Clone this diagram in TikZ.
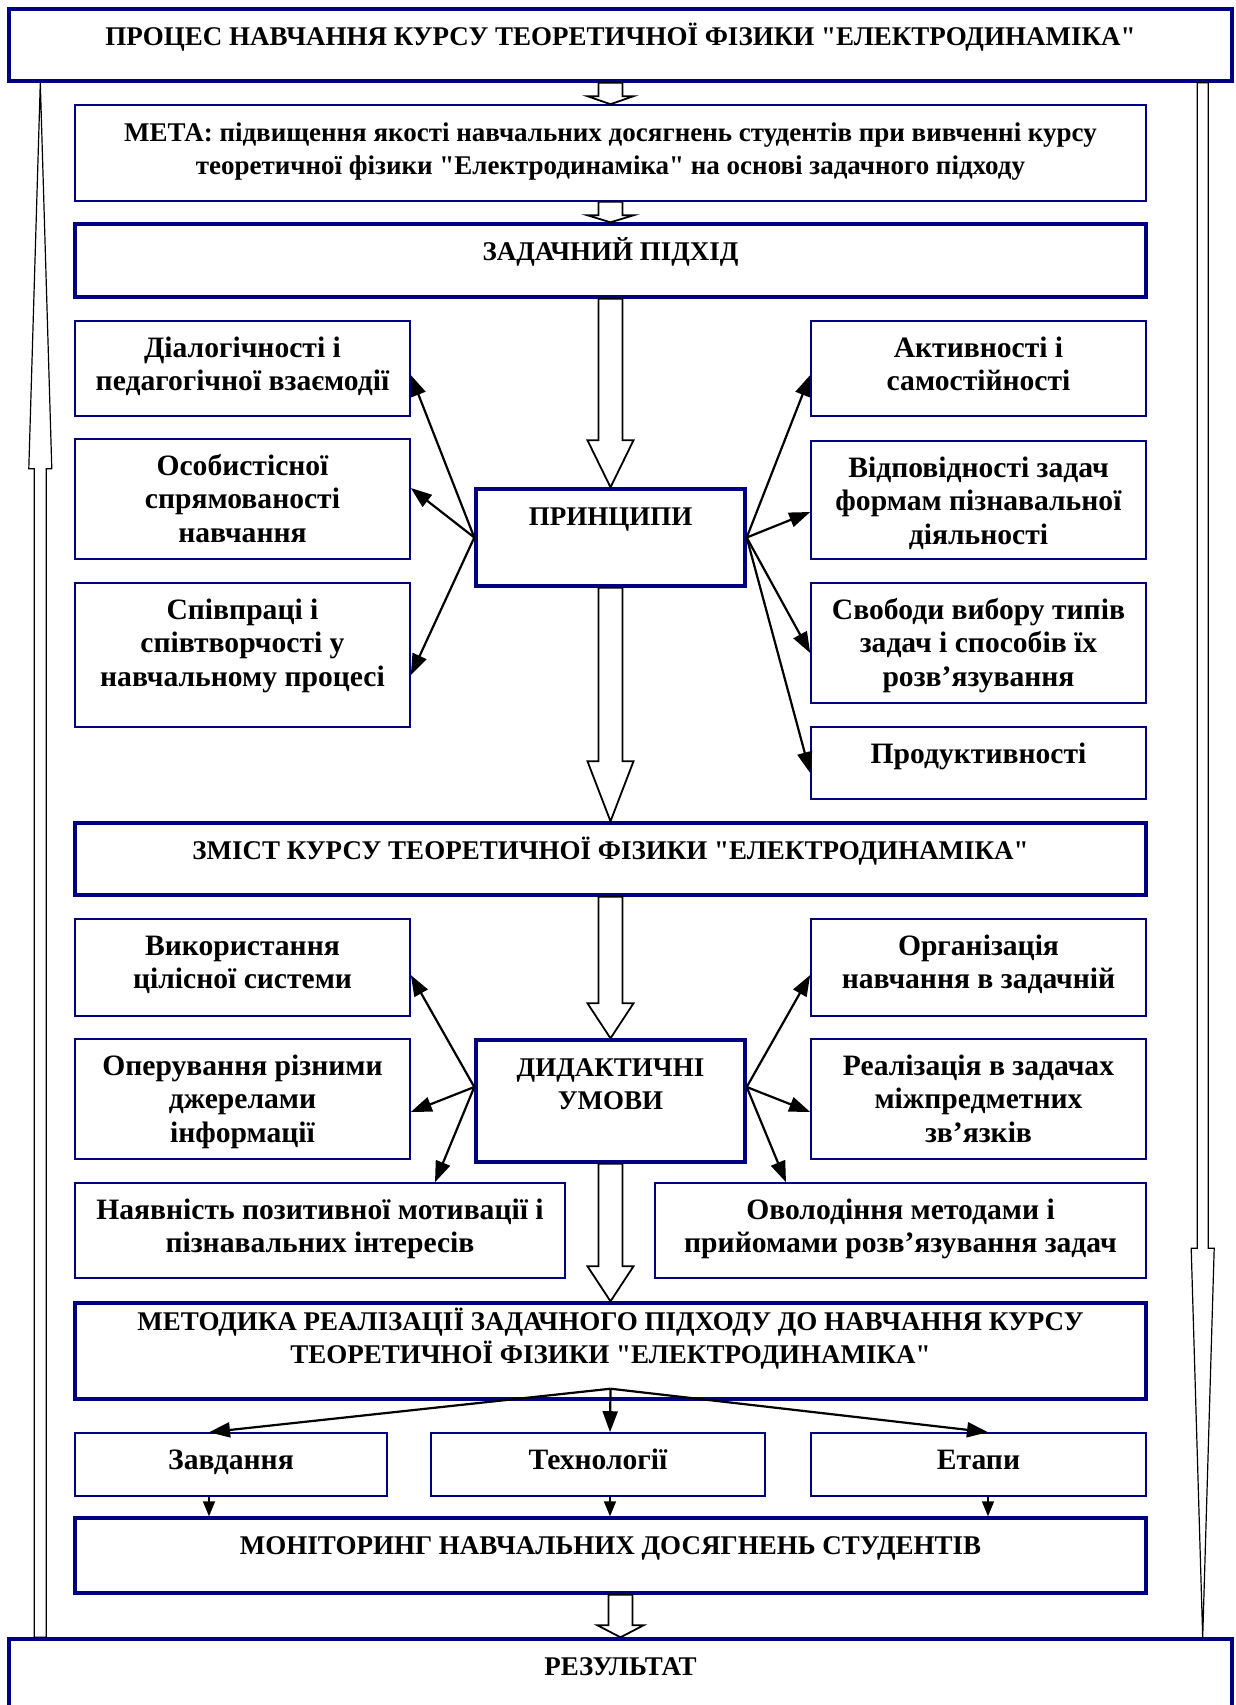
\documentclass[tikz,border=0pt]{standalone}
\usepackage{fontspec}
\setmainfont{Liberation Serif}[Ligatures=TeXOff]
\usepackage{tikz}
\usetikzlibrary{arrows.meta, calc}

\definecolor{ramka}{RGB}{0,0,128}

\newdimen\pxu \pxu=0.5pt
% текст блоку: [відступ 1-го рядка]{ширина}{висота}{текст}, розміри в px
\newcommand{\tb}[4][18pt]{\parbox[c][#3\pxu][t]{#2\pxu}{\centering\rule{0pt}{#1}#4}}
% широка стрілка між блоками: {звідки}{куди}{довжина вістря}
\newcommand{\bigarr}[3]{%
  \draw[blockarr] ($(#2.north |- #1.south)+(-12,0)$) -- ($(#2.north)+(-12,-#3)$)
    -- ($(#2.north)+(-23,-#3)$) -- (#2.north) -- ($(#2.north)+(23,-#3)$)
    -- ($(#2.north)+(12,-#3)$) -- ($(#2.north |- #1.south)+(12,0)$) -- cycle;}

\begin{document}
\begin{tikzpicture}[x=0.5pt, y=-0.5pt,
  font=\fontsize{13.5}{16.8}\selectfont\bfseries,
  bx/.style={draw=ramka, line width=0.8pt, inner sep=0pt, fill=white},
  bxs/.style={bx, font=\fontsize{14.8}{16.8}\selectfont\bfseries},
  bxb/.style={bx, line width=1.7pt},
  blockarr/.style={draw=black, fill=white, line width=0.9pt},
  longarr/.style={draw=black, fill=white, line width=0.6pt},
  arr/.style={-{Triangle[length=10.5pt,width=7.5pt]}, line width=1.1pt},
  sarr/.style={-{Triangle[length=7.5pt,width=6pt]}, line width=0.8pt}]

  \useasboundingbox (0,0) rectangle (1236,1705);
  \clip (0,0) rectangle (1236,1705);

  % === Процес, мета, підхід ===
  \node[bxb] (proc) at (620.5,45) {\tb{1223}{72}{ПРОЦЕС НАВЧАННЯ КУРСУ ТЕОРЕТИЧНОЇ ФІЗИКИ "ЕЛЕКТРОДИНАМІКА"}};
  \node[bx] (meta) at (610.5,153) {\tb{1071}{96}{МЕТА: підвищення якості навчальних досягнень студентів при вивченні курсу\\
    теоретичної фізики "Електродинаміка" на основі задачного підходу}};
  \node[bxb] (zad) at (610.5,260.5) {\tb{1071}{73}{ЗАДАЧНИЙ ПІДХІД}};

  % === Принципи ===
  \node[bxb] (prin) at (610.5,537.5) {\tb{269}{97}{ПРИНЦИПИ}};
  \node[bxs] (pl1) at (242.5,368.5) {\tb{335}{95}{Діалогічності і\\педагогічної взаємодії}};
  \node[bxs] (pl2) at (242.5,499) {\tb{335}{120}{Особистісної\\спрямованості\\навчання}};
  \node[bxs] (pl3) at (242.5,655) {\tb{335}{144}{Співпраці і\\співтворчості у\\навчальному процесі}};
  \node[bxs] (pr1) at (978.5,368.5) {\tb{335}{95}{Активності і\\самостійності}};
  \node[bxs] (pr2) at (978.5,500) {\tb{335}{118}{Відповідності задач\\формам пізнавальної\\діяльності}};
  \node[bxs] (pr3) at (978.5,643) {\tb{335}{120}{Свободи вибору типів\\задач і способів їх\\розв’язування}};
  \node[bxs] (pr4) at (978.5,763) {\tb{335}{72}{Продуктивності}};

  % === Зміст і дидактичні умови ===
  \node[bxb] (zmist) at (610.5,859) {\tb{1071}{72}{ЗМІСТ КУРСУ ТЕОРЕТИЧНОЇ ФІЗИКИ "ЕЛЕКТРОДИНАМІКА"}};
  \node[bxb] (umov) at (610.5,1101) {\tb{269}{122}{ДИДАКТИЧНІ\\УМОВИ}};
  \node[bxs] (ul1) at (242.5,967.5) {\tb{335}{97}{Використання\\цілісної системи}};
  \node[bxs] (ul2) at (242.5,1099) {\tb{335}{120}{Оперування різними\\джерелами\\інформації}};
  \node[bxs] (ul3) at (320,1230.5) {\tb{490}{95}{Наявність позитивної мотивації і\\пізнавальних інтересів}};
  \node[bxs] (ur1) at (978.5,967.5) {\tb{335}{97}{Організація\\навчання в задачній}};
  \node[bxs] (ur2) at (978.5,1099) {\tb{335}{120}{Реалізація в задачах\\міжпредметних\\зв’язків}};
  \node[bxs] (ur3) at (900.5,1230.5) {\tb{491}{95}{Оволодіння методами і\\прийомами розв’язування задач}};

  % === Методика, моніторинг, результат ===
  \node[bxb] (metod) at (610.5,1351) {\tb[13.5pt]{1071}{96}{МЕТОДИКА РЕАЛІЗАЦІЇ ЗАДАЧНОГО ПІДХОДУ ДО НАВЧАННЯ КУРСУ\\
    ТЕОРЕТИЧНОЇ ФІЗИКИ "ЕЛЕКТРОДИНАМІКА"}};
  \node[bxs] (zavd) at (231,1464.5) {\tb{312}{63}{Завдання}};
  \node[bxs] (tech) at (598,1464.5) {\tb{334}{63}{Технології}};
  \node[bxs] (etap) at (978.5,1464.5) {\tb{335}{63}{Етапи}};
  \node[bxb] (monit) at (610.5,1555.5) {\tb{1071}{75}{МОНІТОРИНГ НАВЧАЛЬНИХ ДОСЯГНЕНЬ СТУДЕНТІВ}};
  \node[bxb] (res) at (620.5,1689.5) {\tb{1223}{101}{РЕЗУЛЬТАТ}};

  % широкі стрілки по центру
  \bigarr{proc}{meta}{8}
  \bigarr{meta}{zad}{7}
  \bigarr{zad}{prin}{47}
  \bigarr{prin}{zmist}{60}
  \bigarr{zmist}{umov}{35}
  \bigarr{umov}{metod}{35}
  \bigarr{monit}{res}{12}

  % довгі стрілки по краях
  \coordinate (lt) at ($(proc.south west)+(33,0)$);
  \coordinate (lb) at ($(res.north west)+(33,0)$);
  \draw[longarr] ($(lb)+(-6,0)$) -- ($(lt)+(-6,386)$) -- ($(lt)+(-11.5,386)$) -- (lt)
    -- ($(lt)+(11.5,386)$) -- ($(lt)+(6,386)$) -- ($(lb)+(6,0)$) -- cycle;
  \coordinate (rt) at ($(res.north east)+(-31,0)$);
  \coordinate (rb) at ($(proc.south east)+(-31,0)$);
  \draw[longarr] ($(rb)+(-5.5,0)$) -- ($(rt)+(-5.5,-389)$) -- ($(rt)+(-11.5,-389)$) -- (rt)
    -- ($(rt)+(11.5,-389)$) -- ($(rt)+(5.5,-389)$) -- ($(rb)+(5.5,0)$) -- cycle;

  % принципи
  \draw[arr] (prin.west) -- ([yshift=-3.25pt]pl1.east);
  \draw[arr] (prin.west) -- ([yshift=5.5pt]pl2.east);
  \draw[arr] (prin.west) -- ([yshift=-10pt]pl3.east);
  \draw[arr] (prin.east) -- ([yshift=-3.25pt]pr1.west);
  \draw[arr] (prin.east) -- ([yshift=-6pt]pr2.west);
  \draw[arr] (prin.east) -- ([yshift=-5pt]pr3.west);
  \draw[arr] (prin.east) -- ([yshift=-5pt]pr4.west);

  % умови
  \draw[arr] ([yshift=7pt]umov.west) -- ([yshift=-3.75pt]ul1.east);
  \draw[arr] ([yshift=7pt]umov.west) -- ([yshift=-6.5pt]ul2.east);
  \draw[arr] ([yshift=7pt]umov.west) -- ([xshift=57.5pt]ul3.north);
  \draw[arr] ([yshift=7pt]umov.east) -- ([yshift=-3.75pt]ur1.west);
  \draw[arr] ([yshift=7pt]umov.east) -- ([yshift=-6.5pt]ur2.west);
  \draw[arr] ([yshift=7pt]umov.east) -- ([xshift=-57.25pt]ur3.north);

  % методика -> завдання, технології, етапи
  \coordinate (mfan) at ($(metod.south)+(0,-12)$);
  \draw[arr] (mfan) -- ([xshift=-11pt]zavd.north);
  \draw[arr] (mfan) -- ([xshift=6pt]tech.north);
  \draw[arr] (mfan) -- ([xshift=4.75pt]etap.north);

  % -> моніторинг
  \draw[sarr] ([xshift=-11pt]zavd.south) -- ([xshift=-11pt]zavd.south |- monit.north);
  \draw[sarr] ([xshift=6pt]tech.south) -- ([xshift=6pt]tech.south |- monit.north);
  \draw[sarr] ([xshift=4.75pt]etap.south) -- ([xshift=4.75pt]etap.south |- monit.north);
\end{tikzpicture}
\end{document}
